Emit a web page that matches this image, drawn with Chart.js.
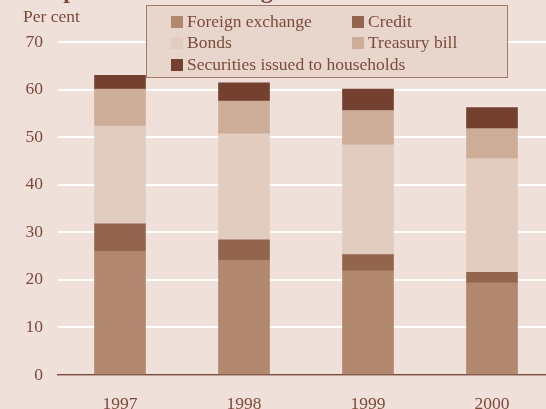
<!DOCTYPE html>
<html>
<head>
<meta charset="utf-8">
<script src="https://cdn.jsdelivr.net/npm/chart.js@4"></script>
<style>
  html, body { margin:0; padding:0; background:#EFE1D9; overflow:hidden; }
  #wrap { position:relative; width:554px; height:409px; }
  #title { position:absolute; left:14px; top:-23px; font:bold 24px "Liberation Serif", serif; color:#7B4B3B; white-space:nowrap; }
  #unit { position:absolute; left:23px; top:6px; font:17.5px "Liberation Serif", serif; color:#7B4B3B; }
  #legend { position:absolute; left:146px; top:5px; width:360px; height:71px; background:#E8D6CC; border:1.5px solid #A47766; }
  .lg-item { position:absolute; font:17.5px "Liberation Serif", serif; color:#7B4B3B; white-space:nowrap; line-height:18px; }
  .lg-box { display:inline-block; width:12px; height:12px; margin-right:4px; vertical-align:-1px; }
</style>
</head>
<body>
<div id="wrap">
  <canvas id="chart" width="554" height="409"></canvas>
  <div id="title">Composition of financing</div>
  <div id="unit">Per cent</div>
  <div id="legend"></div>
</div>
<script>
  // Data (per cent)
  var years      = ['1997', '1998', '1999', '2000'];
  var foreignEx  = [26.0, 24.1, 21.9, 19.4];
  var credit     = [5.8, 4.3, 3.4, 2.2];
  var bonds      = [20.5, 22.3, 23.1, 23.9];
  var treasury   = [7.8, 6.9, 7.2, 6.3];
  var households = [2.9, 3.8, 4.5, 4.4];
  var yTicks     = [0, 10, 20, 30, 40, 50, 60, 70];

  var textColor = '#7B4B3B';

  var series = [
    { label: 'Foreign exchange', data: foreignEx, color: '#B1876F' },
    { label: 'Credit', data: credit, color: '#93654E' },
    { label: 'Bonds', data: bonds, color: '#E2CCBF' },
    { label: 'Treasury bill', data: treasury, color: '#CDAD98' },
    { label: 'Securities issued to households', data: households, color: '#744130' }
  ];

  // legend (two columns, last item on its own row)
  var legendPos = [[24, 6], [205, 6], [24, 27], [205, 27], [24, 49]];
  var $lg = document.getElementById('legend');
  series.forEach(function (s, i) {
    var el = document.createElement('div');
    el.className = 'lg-item';
    el.style.left = legendPos[i][0] + 'px';
    el.style.top = legendPos[i][1] + 'px';
    el.innerHTML = '<span class="lg-box" style="background:' + s.color + '"></span>' + s.label;
    $lg.appendChild(el);
  });

  new Chart(document.getElementById('chart'), {
    type: 'bar',
    data: {
      labels: years,
      datasets: series.map(function (s) {
        return { label: s.label, data: s.data, backgroundColor: s.color, borderWidth: 0, barThickness: 51 };
      })
    },
    options: {
      responsive: false,
      animation: false,
      layout: { padding: { top: 42, left: 0, right: 0, bottom: 0 } },
      plugins: { legend: { display: false }, tooltip: { enabled: false } },
      scales: {
        x: {
          stacked: true,
          grid: { display: false },
          border: { display: true, color: textColor, width: 1.5 },
          ticks: { color: textColor, font: { family: 'Liberation Serif', size: 17.5 }, padding: 11 },
          afterFit: function (scale) { scale.height = 34; }
        },
        y: {
          stacked: true,
          min: 0, max: 70,
          afterBuildTicks: function (scale) { scale.ticks = yTicks.map(function (v) { return { value: v }; }); },
          grid: { color: '#FFFFFF', lineWidth: 2, drawTicks: false },
          border: { display: false },
          ticks: { color: textColor, font: { family: 'Liberation Serif', size: 17.5 }, padding: 15 },
          afterFit: function (scale) { scale.width = 58; }
        }
      }
    }
  });
</script>
</body>
</html>
